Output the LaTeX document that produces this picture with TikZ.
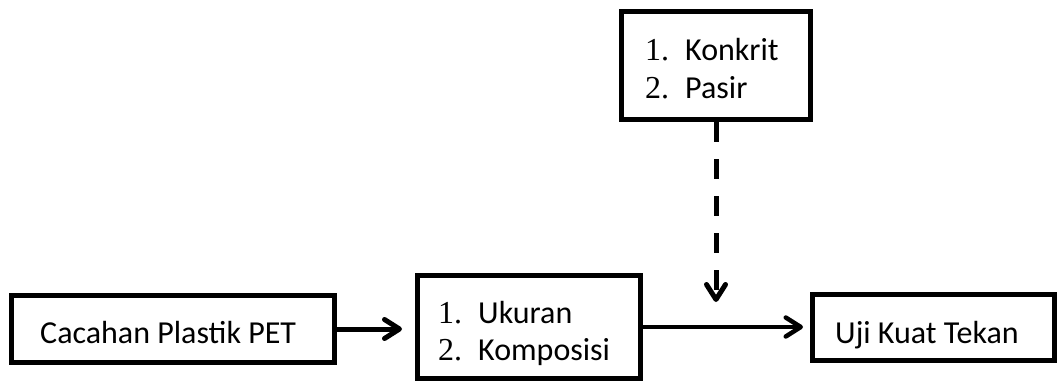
\documentclass[tikz,border=0pt]{standalone}
\usepackage{fontspec}
\setmainfont{Carlito}
\newfontfamily\numfont{Liberation Serif}
\usetikzlibrary{arrows.meta}
\newcommand{\itm}[2]{\makebox[40pt][l]{\numfont #1.}#2}
\begin{document}
\begin{tikzpicture}[x=1pt,y=-1pt,
  box/.style={draw, line width=5pt, inner sep=0pt},
  txt/.style={anchor=base west, inner sep=0pt, font=\fontsize{32}{38}\selectfont},
  tip/.style={-{Straight Barb[length=15pt,width=19pt,line cap=round,line join=round]}},
  arr/.style={tip, line width=5pt}]
\useasboundingbox (0,0) rectangle (1059,381);
\node[box, minimum width=323pt, minimum height=67pt] (b1) at (173,329) {};
\node[box, minimum width=223pt, minimum height=103pt] (b2) at (529,327) {};
\node[box, minimum width=242pt, minimum height=66pt] (b3) at (933.5,327.5) {};
\node[box, minimum width=189pt, minimum height=108pt] (b4) at (716,65.5) {};
\node[txt] (t1) at (40,343) {Cacahan Plastik PET};
\node[txt] (t2a) at (438,323) {\itm{1}{Ukuran}};
\node[txt] (t2b) at (438,360) {\itm{2}{Komposisi}};
\node[txt] (t3) at (835,343) {Uji Kuat Tekan};
\node[txt] (t4a) at (645,60) {\itm{1}{Konkrit}};
\node[txt] (t4b) at (645,98) {\itm{2}{Pasir}};
\coordinate (dtip) at (716,302);
\draw[arr, shorten >=13pt] (b1.east) -- (b1.east -| b2.west);
\draw[tip, line width=4.5pt, shorten >=7pt] (b2.east) -- (b2.east -| b3.west);
\draw[arr, dash pattern=on 20pt off 17pt] (b4.south) -- (dtip);
\end{tikzpicture}
\end{document}
